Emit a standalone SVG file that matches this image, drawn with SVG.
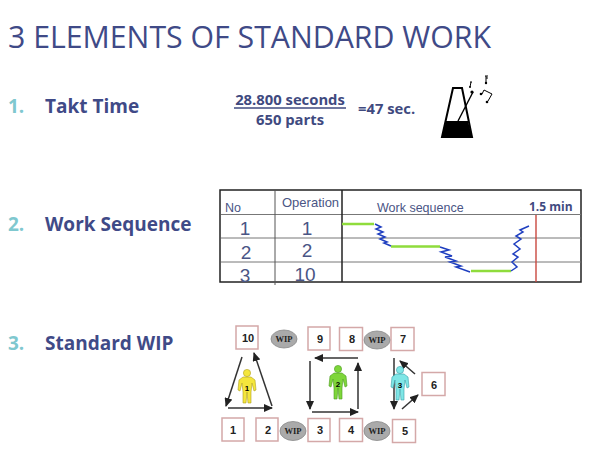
<svg xmlns="http://www.w3.org/2000/svg" width="600" height="453" viewBox="0 0 600 453">
<defs>
<marker id="a" markerWidth="10" markerHeight="8" refX="8" refY="4" orient="auto" markerUnits="userSpaceOnUse"><path d="M0 0L9 4L0 8Z" fill="#222"/></marker>
<g id="p"><circle cx="0" cy="-13" r="3.6"/><path d="M-4 -9H4L8 -6L9 4L7 5L5 -3L4 6V17H1L0 6L-1 17H-4V6L-5 -3L-7 5L-9 4L-8 -6Z"/></g>
</defs>
<style>
.h{font-family:"Open Sans","Liberation Sans",sans-serif}
.l{font-family:"Open Sans","Liberation Sans",sans-serif;font-weight:700;font-size:19px;fill:#3f4a87}
.n{font-family:"Open Sans","Liberation Sans",sans-serif;font-weight:700;font-size:19px;fill:#7fc8cf}
.f{font-family:"Open Sans","Liberation Sans",sans-serif;font-weight:700;font-size:14.800px;fill:#3f4a7f}
.t{font-family:"Liberation Sans",sans-serif;fill:#4a5585}
.b{fill:#fff;stroke:#d4a8a8;stroke-width:1.5}
.d{font-family:"Liberation Sans",sans-serif;font-weight:700;font-size:11px;fill:#222;text-anchor:middle}
.w{fill:#aaa;stroke:#888;stroke-width:.8}
.wt{font-family:"Liberation Serif",serif;font-weight:700;font-size:8.500px;fill:#222;text-anchor:middle}
.c{stroke:#333;stroke-width:1.500;fill:none;marker-end:url(#a)}
.g{stroke:#8fdc3c;stroke-width:2.400;fill:none}
.z{stroke:#1f3fc0;stroke-width:1.500;fill:none}
.r{stroke:#777;stroke-width:1;fill:none}
</style>
<rect width="600" height="453" fill="#fff"/>
<text class="h" x="8" y="48" font-size="31" textLength="483" lengthAdjust="spacingAndGlyphs" fill="#3f4a87">3 ELEMENTS OF STANDARD WORK</text>
<text class="n" x="8" y="113">1.</text><text class="l" x="45" y="113">Takt Time</text>
<text class="n" x="8" y="231">2.</text><text class="l" x="45" y="231">Work Sequence</text>
<text class="n" x="8" y="350">3.</text><text class="l" x="45" y="350">Standard WIP</text>

<g id="formula">
<text class="f" x="290" y="105" text-anchor="middle">28.800 seconds</text>
<line x1="234" y1="108" x2="346" y2="108" stroke="#3f4a7f" stroke-width="1.300"/>
<text class="f" x="290" y="125" text-anchor="middle">650 parts</text>
<text class="f" x="358" y="114">=47 sec.</text>
</g>

<g id="metronome">
<path d="M442 137L453 88H462L472 137Z" fill="none" stroke="#000" stroke-width="2"/>
<path d="M442 137L446 121H468L472 137Z" fill="#000"/>
<path d="M458 121L473 92" stroke="#000" stroke-width="1.400"/><circle cx="472" cy="92" r="1.600"/>
<path d="M470 82L472 82M471 82L470 87" stroke="#000" stroke-width="1"/><circle cx="470" cy="87" r="1"/>
<path d="M485 76H488M486 76V83M486 78H488" stroke="#000" stroke-width="1"/><circle cx="486" cy="83" r="1.200"/>
<path d="M484 90L492 94L488 101M484 90L482 94" stroke="#000" stroke-width="1" fill="none"/><circle cx="481" cy="94" r="1.300"/><circle cx="487" cy="102" r="1.300"/>
</g>

<g id="table">
<rect x="220" y="190" width="361" height="92" fill="#fff" stroke="#222" stroke-width="1.500"/>
<path class="r" d="M221 214.500H581M221 238H581M221 262H581"/>
<path d="M275 190V285" stroke="#555" fill="none"/>
<path d="M342 190V282" stroke="#222" stroke-width="1.500" fill="none"/>
<text class="t" x="225" y="212" font-size="12.500">No</text>
<text class="t" x="282" y="207" font-size="13">Operation</text>
<text class="t" x="377" y="212" font-size="12.500">Work sequence</text>
<text class="f" x="529" y="211" style="font-size:12px">1.5 min</text>
<text class="t" x="245" y="235" font-size="19" text-anchor="middle">1</text>
<text class="t" x="307" y="235" font-size="19" text-anchor="middle">1</text>
<text class="t" x="246" y="259" font-size="19" text-anchor="middle">2</text>
<text class="t" x="307" y="257" font-size="19" text-anchor="middle">2</text>
<text class="t" x="245" y="282" font-size="19" text-anchor="middle">3</text>
<text class="t" x="305" y="281" font-size="19" text-anchor="middle">10</text>
<path class="g" d="M342 224H374M391 246.500H440M471 271H511"/>
<path class="z" d="M375 224L381 227L376 229L383 232L378 234L385 237L380 239L387 242L384 243L391 246"/>
<path class="z" d="M440 247L449 250L441 252L452 256L445 257L456 261L450 262L461 266L456 267L470 272"/>
<path class="z" d="M511 271L517 267L512 262L518 257L513 254L520 249L514 244L521 239L516 236L523 232L520 230L529 226"/>
<path d="M536 215V282" stroke="#c9483f" stroke-width="1.400"/>
</g>

<g id="connectors">
<path class="c" d="M242 357L226 406"/><path class="c" d="M228 408H272"/><path class="c" d="M272 406L254 353"/>
<path class="c" d="M358 358H315"/><path class="c" d="M310 361V409"/><path class="c" d="M312 412H358"/><path class="c" d="M358 409V363"/>
<path class="c" d="M394 358V409"/><path class="c" d="M415 374L400 361"/><path class="c" d="M402 409L418 395"/>
</g>

<g id="worker1"><use href="#p" x="247" y="386" fill="#f4e63c" stroke="#b0a020" stroke-width=".6"/><text x="247" y="391" font-family="Liberation Sans,sans-serif" font-size="8" font-weight="700" text-anchor="middle">1</text></g>
<g id="worker2"><use href="#p" x="338" y="382" fill="#7ed63a" stroke="#4c9a20" stroke-width=".6"/><text x="338" y="387" font-family="Liberation Sans,sans-serif" font-size="8" font-weight="700" text-anchor="middle">2</text></g>
<g id="worker3"><use href="#p" x="400" y="383" fill="#7fe6e6" stroke="#3aa0a8" stroke-width=".6"/><text x="400" y="388" font-family="Liberation Sans,sans-serif" font-size="8" font-weight="700" text-anchor="middle">3</text></g>

<g id="box10"><rect class="b" x="236" y="326" width="22" height="23"/><text class="d" x="248" y="342">10</text></g>
<g id="box9"><rect class="b" x="308" y="327" width="22" height="23"/><text class="d" x="320" y="343">9</text></g>
<g id="box8"><rect class="b" x="339.500" y="327.500" width="23" height="23"/><text class="d" x="352" y="343">8</text></g>
<g id="box7"><rect class="b" x="391" y="327.500" width="23" height="23"/><text class="d" x="403" y="343">7</text></g>
<g id="box1"><rect class="b" x="222" y="418" width="22" height="23"/><text class="d" x="233" y="434">1</text></g>
<g id="box2"><rect class="b" x="256" y="418" width="22" height="23"/><text class="d" x="268" y="434">2</text></g>
<g id="box3"><rect class="b" x="308" y="418.500" width="22" height="23"/><text class="d" x="320" y="434">3</text></g>
<g id="box4"><rect class="b" x="339.500" y="418.500" width="23" height="23"/><text class="d" x="351" y="434">4</text></g>
<g id="box5"><rect class="b" x="392.500" y="419.500" width="23" height="23"/><text class="d" x="405" y="435">5</text></g>
<g id="box6"><rect class="b" x="422" y="372.500" width="23" height="23"/><text class="d" x="434" y="389">6</text></g>

<g id="wip1"><ellipse class="w" cx="284" cy="339" rx="13" ry="9"/><text class="wt" x="284" y="342">WIP</text></g>
<g id="wip2"><ellipse class="w" cx="293" cy="431" rx="13" ry="9.500"/><text class="wt" x="293" y="434">WIP</text></g>
<g id="wip3"><ellipse class="w" cx="377" cy="340" rx="13" ry="9"/><text class="wt" x="377" y="343">WIP</text></g>
<g id="wip4"><ellipse class="w" cx="377" cy="431" rx="13" ry="9.500"/><text class="wt" x="377" y="434">WIP</text></g>
</svg>
